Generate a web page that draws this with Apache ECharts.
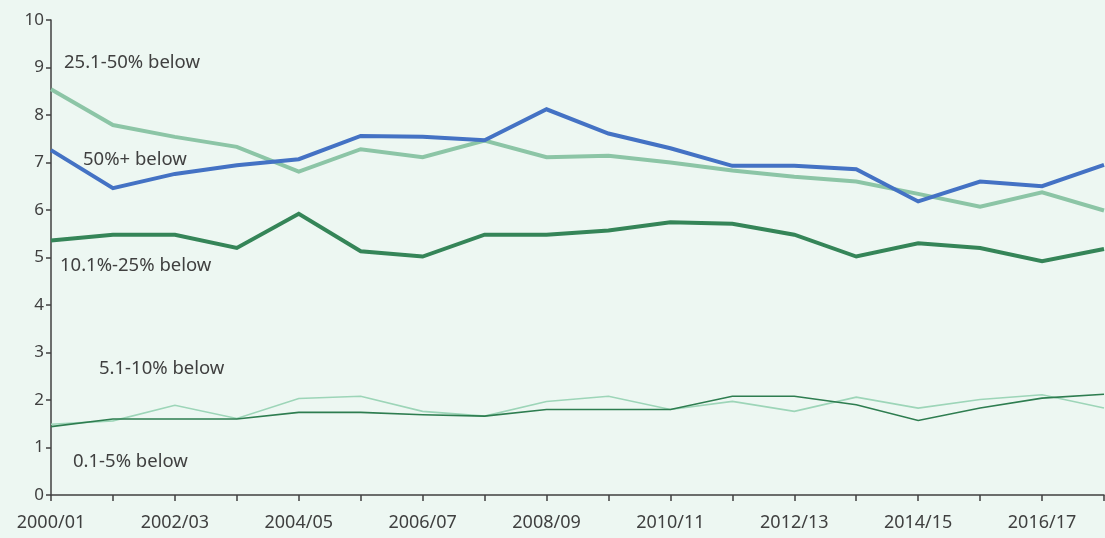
<!DOCTYPE html>
<html>
<head>
<meta charset="utf-8">
<style>
  html, body { margin: 0; padding: 0; background: #EDF7F2; }
  #chart { width: 1105px; height: 538px; }
</style>
<script src="https://cdn.jsdelivr.net/npm/echarts@6/dist/echarts.min.js"></script>
</head>
<body>
<div id="chart"></div>
<script>
// Financial years on the horizontal axis
const years = ['2000/01','2001/02','2002/03','2003/04','2004/05','2005/06','2006/07','2007/08','2008/09',
  '2009/10','2010/11','2011/12','2012/13','2013/14','2014/15','2015/16','2016/17','2017/18'];

// Share (%) in each band below the threshold
const below25to50 = [8.54,7.79,7.54,7.33,6.81,7.28,7.11,7.46,7.11,7.14,7.00,6.83,6.70,6.60,6.34,6.07,6.37,5.99];
const below50plus = [7.26,6.46,6.76,6.94,7.07,7.56,7.54,7.47,8.12,7.61,7.30,6.93,6.93,6.86,6.18,6.60,6.50,6.95];
const below10to25 = [5.36,5.48,5.48,5.20,5.92,5.13,5.02,5.48,5.48,5.57,5.74,5.71,5.48,5.02,5.30,5.20,4.92,5.18];
const below5to10  = [1.49,1.56,1.89,1.61,2.03,2.08,1.76,1.66,1.97,2.08,1.80,1.97,1.76,2.06,1.83,2.01,2.11,1.83];
const below0to5   = [1.44,1.60,1.60,1.60,1.74,1.74,1.69,1.66,1.80,1.80,1.80,2.08,2.08,1.90,1.57,1.83,2.04,2.12];

const seriesNames = ['25.1-50% below','50%+ below','10.1%-25% below','5.1-10% below','0.1-5% below'];

const FONT = '"Noto Sans", "Open Sans", sans-serif';
const TEXT = '#404040';

const chart = echarts.init(document.getElementById('chart'), null, { renderer: 'canvas' });

function line(name, data, color, width, z) {
  return {
    name: name, type: 'line', data: data, symbol: 'none', z: z,
    lineStyle: { color: color, width: width, join: 'miter' },
    itemStyle: { color: color },
    emphasis: { disabled: true }
  };
}

// Band name placed beside its line
function label(text, x, y) {
  return {
    type: 'text', x: x, y: y, z: 100,
    style: { text: text, fill: TEXT, font: '18.5px ' + FONT, verticalAlign: 'middle', align: 'left' }
  };
}

chart.setOption({
  backgroundColor: '#EDF7F2',
  animation: false,
  grid: { left: 51, right: 1, top: 20, bottom: 43, containLabel: false },
  xAxis: {
    type: 'category',
    data: years,
    boundaryGap: false,
    axisLine: { lineStyle: { color: TEXT, width: 1.5 } },
    axisTick: { show: true, length: 6, interval: 0, lineStyle: { color: TEXT, width: 1.5 } },
    axisLabel: {
      interval: function (i) { return i % 2 === 0; },
      color: TEXT, fontFamily: FONT, fontSize: 18, margin: 19,
      hideOverlap: false
    },
    splitLine: { show: false }
  },
  yAxis: {
    type: 'value',
    min: 0, max: 10, interval: 1,
    axisLine: { show: true, lineStyle: { color: TEXT, width: 1.5 } },
    axisTick: { show: true, length: 5, lineStyle: { color: TEXT, width: 1.5 } },
    axisLabel: { color: TEXT, fontFamily: FONT, fontSize: 17, margin: 7 },
    splitLine: { show: false }
  },
  series: [
    line(seriesNames[3], below5to10, '#9DD5B8', 1.6, 2),
    line(seriesNames[4], below0to5, '#2E7D50', 1.6, 3),
    line(seriesNames[2], below10to25, '#358558', 4, 4),
    line(seriesNames[0], below25to50, '#8CC5A6', 4, 5),
    line(seriesNames[1], below50plus, '#4472C4', 4, 6)
  ],
  graphic: [
    label(seriesNames[0], 64, 63),
    label(seriesNames[1], 83, 160),
    label(seriesNames[2], 60, 266),
    label(seriesNames[3], 99, 369),
    label(seriesNames[4], 73, 462)
  ]
});
</script>
</body>
</html>
